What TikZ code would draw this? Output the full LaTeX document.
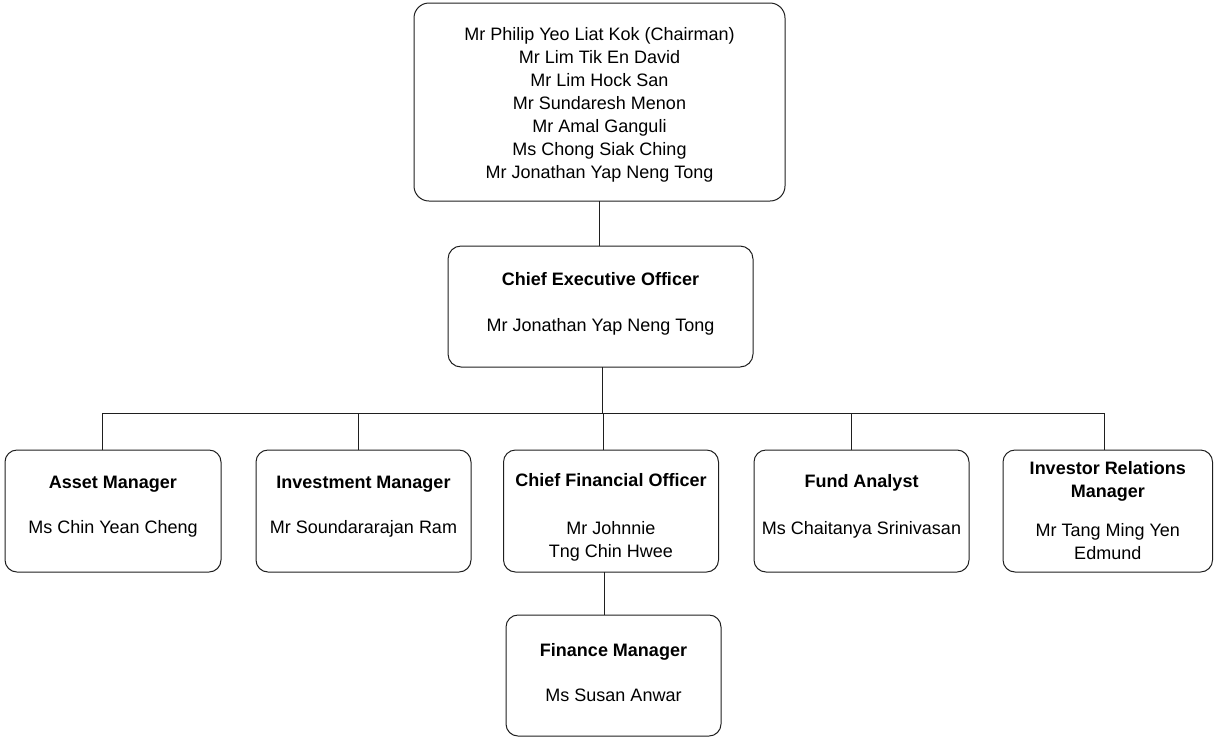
\documentclass[tikz,border=0pt]{standalone}
\usepackage{fontspec}
\setmainfont{Liberation Sans}
\begin{document}
\begin{tikzpicture}[x=1pt,y=-1pt,
  box/.style={draw=black!88, line width=1pt, rounded corners=12pt, inner sep=0pt},
  txt/.style={align=center, font=\fontsize{18}{23}\selectfont, inner sep=0pt, text=black},
  link/.style={draw=black!88, line width=1pt}]
\useasboundingbox (0,0) rectangle (1214,737);

% boxes
\node[box, rounded corners=15pt, minimum width=371pt, minimum height=198pt] (board) at (599.5,102) {};
\node[box, rounded corners=13pt, minimum width=305pt, minimum height=121pt] (ceo) at (600.5,306.5) {};
\node[box, minimum width=216pt, minimum height=122pt] (asset) at (113,511) {};
\node[box, minimum width=215pt, minimum height=122pt] (invest) at (363.5,511) {};
\node[box, minimum width=215pt, minimum height=122pt] (cfo) at (611,511) {};
\node[box, minimum width=215pt, minimum height=122pt] (fund) at (861.5,511) {};
\node[box, minimum width=209.5pt, minimum height=122pt] (ir) at (1107.75,511) {};
\node[box, minimum width=215pt, minimum height=121pt] (fin) at (613.5,675.5) {};

% texts
\node[txt] (board-t) at (599.5,104.5) {Mr Philip Yeo Liat Kok (Chairman)\\Mr Lim Tik En David\\Mr Lim Hock San\\Mr Sundaresh Menon\\Mr Amal Ganguli\\Ms Chong Siak Ching\\Mr Jonathan Yap Neng Tong};
\node[txt] (ceo-t) at (600.5,304) {\textbf{Chief Executive Officer}\\[23pt]Mr Jonathan Yap Neng Tong};
\node[txt] (asset-t) at (113,506.5) {\textbf{Asset Manager}\\[22pt]Ms Chin Yean Cheng};
\node[txt] (invest-t) at (363.5,506.5) {\textbf{Investment Manager}\\[22pt]Mr Soundararajan Ram};
\node[txt] (cfo-t) at (611,517.5) {\textbf{Chief Financial Officer}\\[25pt]Mr Johnnie\\Tng Chin Hwee};
\node[txt] (fund-t) at (861.5,506.5) {\textbf{Fund Analyst}\\[24pt]Ms Chaitanya Srinivasan};
\node[txt] (ir-t) at (1107.75,511) {\textbf{Investor Relations}\\\textbf{Manager}\\[16pt]Mr Tang Ming Yen\\Edmund};
\node[txt] (fin-t) at (613.5,672.5) {\textbf{Finance Manager}\\[22pt]Ms Susan Anwar};

% connector points
\coordinate (busy) at (0,413);
\coordinate (d-asset) at (102,450);
\coordinate (d-invest) at (358,450);
\coordinate (d-cfo) at (603,450);
\coordinate (d-fund) at (851,450);
\coordinate (d-ir) at (1104.5,450);
\coordinate (c-top) at (599,201);
\coordinate (c-ceo) at (599,246);
\coordinate (c-ceo-b) at (602,367);
\coordinate (c-cfo-b) at (604.5,572);
\coordinate (c-fin) at (604.5,615);

% connectors
\draw[link] (c-top) -- (c-ceo);
\draw[link] (c-ceo-b) -- (c-ceo-b |- busy);
\draw[link] (d-asset) -- (d-asset |- busy) -- (d-ir |- busy) -- (d-ir);
\draw[link] (d-invest) -- (d-invest |- busy);
\draw[link] (d-cfo) -- (d-cfo |- busy);
\draw[link] (d-fund) -- (d-fund |- busy);
\draw[link] (c-cfo-b) -- (c-fin);
\end{tikzpicture}
\end{document}
